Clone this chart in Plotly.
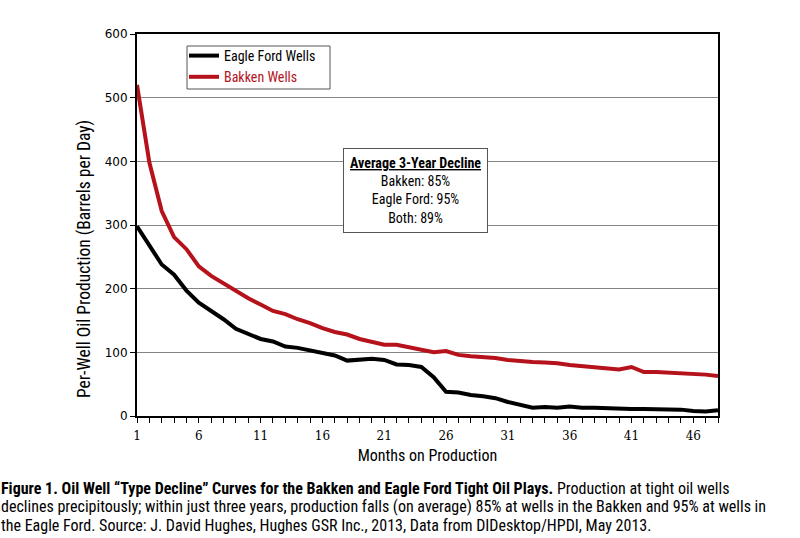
import plotly.graph_objects as go

months = list(range(1, 49))
bakken = [520, 398, 322, 281, 262, 235, 220, 208, 197, 185, 175, 165, 160, 152, 146, 138,
          132, 128, 121, 116, 112, 112, 108, 105, 100, 102, 96, 94, 93, 91, 88, 86,
          85, 84, 83, 80, 78, 76, 75, 73, 77, 69, 69, 68, 68, 66, 65, 63]
eagle_ford = [298, 268, 238, 222, 197, 178, 165, 152, 137, 129, 121, 117, 109, 107, 103, 98,
              95, 87, 88, 90, 88, 81, 80, 77, 61, 38, 37, 33, 31, 28, 22, 18,
              13, 14, 13, 15, 13, 13, 12, 12, 11, 11, 11, 10, 10, 8, 7, 9]
x_tick_vals = [1, 6, 11, 16, 21, 26, 31, 36, 41, 46]
y_tick_vals = [0, 100, 200, 300, 400, 500, 600]

RED = "#b5121b"
NARROW = "Liberation Sans Narrow, Roboto Condensed, Arial Narrow, Roboto, sans-serif"

fig = go.Figure()
fig.add_trace(go.Scatter(x=months, y=eagle_ford, mode="lines", name="Eagle Ford Wells",
                         line=dict(color="black", width=4)))
fig.add_trace(go.Scatter(x=months, y=bakken, mode="lines",
                         name="<span style='color:%s'>Bakken Wells</span>" % RED,
                         line=dict(color=RED, width=4)))

L, R, T, B = 137, 82, 34, 122
W, H = 800, 538
pw = W - L - R
ph = H - T - B

def px(xp):
    return (xp - L) / pw

def py(yp):
    return (H - B - yp) / ph

fig.update_layout(
    width=W, height=H,
    margin=dict(l=L, r=R, t=T, b=B),
    paper_bgcolor="white", plot_bgcolor="white",
    showlegend=True,
    legend=dict(x=px(184), y=py(40), xanchor="left", yanchor="top",
                borderwidth=0, bgcolor="rgba(0,0,0,0)",
                font=dict(family=NARROW, size=14, color="black"),
                tracegroupgap=0),
    xaxis=dict(range=[1, 48], tickmode="array", tickvals=months,
               ticktext=[str(m) if m in x_tick_vals else "" for m in months],
               ticks="outside", ticklen=5, tickcolor="black", tickwidth=1,
               ticklabelstandoff=3,
               showline=True, linecolor="black", linewidth=2, mirror=True,
               showgrid=False, zeroline=False,
               tickfont=dict(family="DejaVu Serif", size=12, color="black"),
               title=dict(text="Months on Production", standoff=7,
                          font=dict(family=NARROW, size=16, color="black"))),
    yaxis=dict(range=[0, 600], tickvals=y_tick_vals,
               ticks="outside", ticklen=5, tickcolor="black", tickwidth=1,
               showline=True, linecolor="black", linewidth=2, mirror=True,
               showgrid=True, gridcolor="#858585", gridwidth=1, zeroline=False,
               tickfont=dict(family="DejaVu Sans", size=12, color="black")),
)

# legend frame
fig.add_shape(type="rect", xref="paper", yref="paper",
              x0=px(187), x1=px(330), y0=py(46), y1=py(89),
              line=dict(color="#555555", width=1), fillcolor="white", layer="below")

# y-axis title
fig.add_annotation(
    xref="paper", yref="paper", x=px(84), y=py(259), xanchor="center", yanchor="middle",
    text="Per-Well Oil Production (Barrels per Day)", textangle=-90, showarrow=False,
    font=dict(family=NARROW, size=17.5, color="black"),
)

fig.add_annotation(
    xref="paper", yref="paper", x=px(415), y=py(191), xanchor="center", yanchor="middle",
    text="<b><u>Average 3-Year Decline</u></b><br>Bakken: 85%<br>Eagle Ford: 95%<br>Both: 89%",
    showarrow=False, align="center",
    font=dict(family=NARROW, size=14, color="black"),
    bordercolor="#555555", borderwidth=1, borderpad=6, bgcolor="white",
)

caption_lines = [
    "<b>Figure 1. Oil Well \u201cType Decline\u201d Curves for the Bakken and Eagle Ford Tight Oil Plays.</b>"
    " Production at tight oil wells",
    "declines precipitously; within just three years, production falls"
    " (on average) 85% at wells in the Bakken and 95% at wells in",
    "the Eagle Ford. Source: J. David Hughes,"
    " Hughes GSR Inc., 2013, Data from DIDesktop/HPDI, May 2013.",
]
caption = "<br>".join("<span style='font-size:16px'>%s</span>" % ln for ln in caption_lines)
fig.add_annotation(
    xref="paper", yref="paper", x=px(-1), y=py(507), xanchor="left", yanchor="middle",
    text=caption, showarrow=False, align="left",
    font=dict(family=NARROW, size=14.2, color="black"),
)

fig.write_html("out.html")
